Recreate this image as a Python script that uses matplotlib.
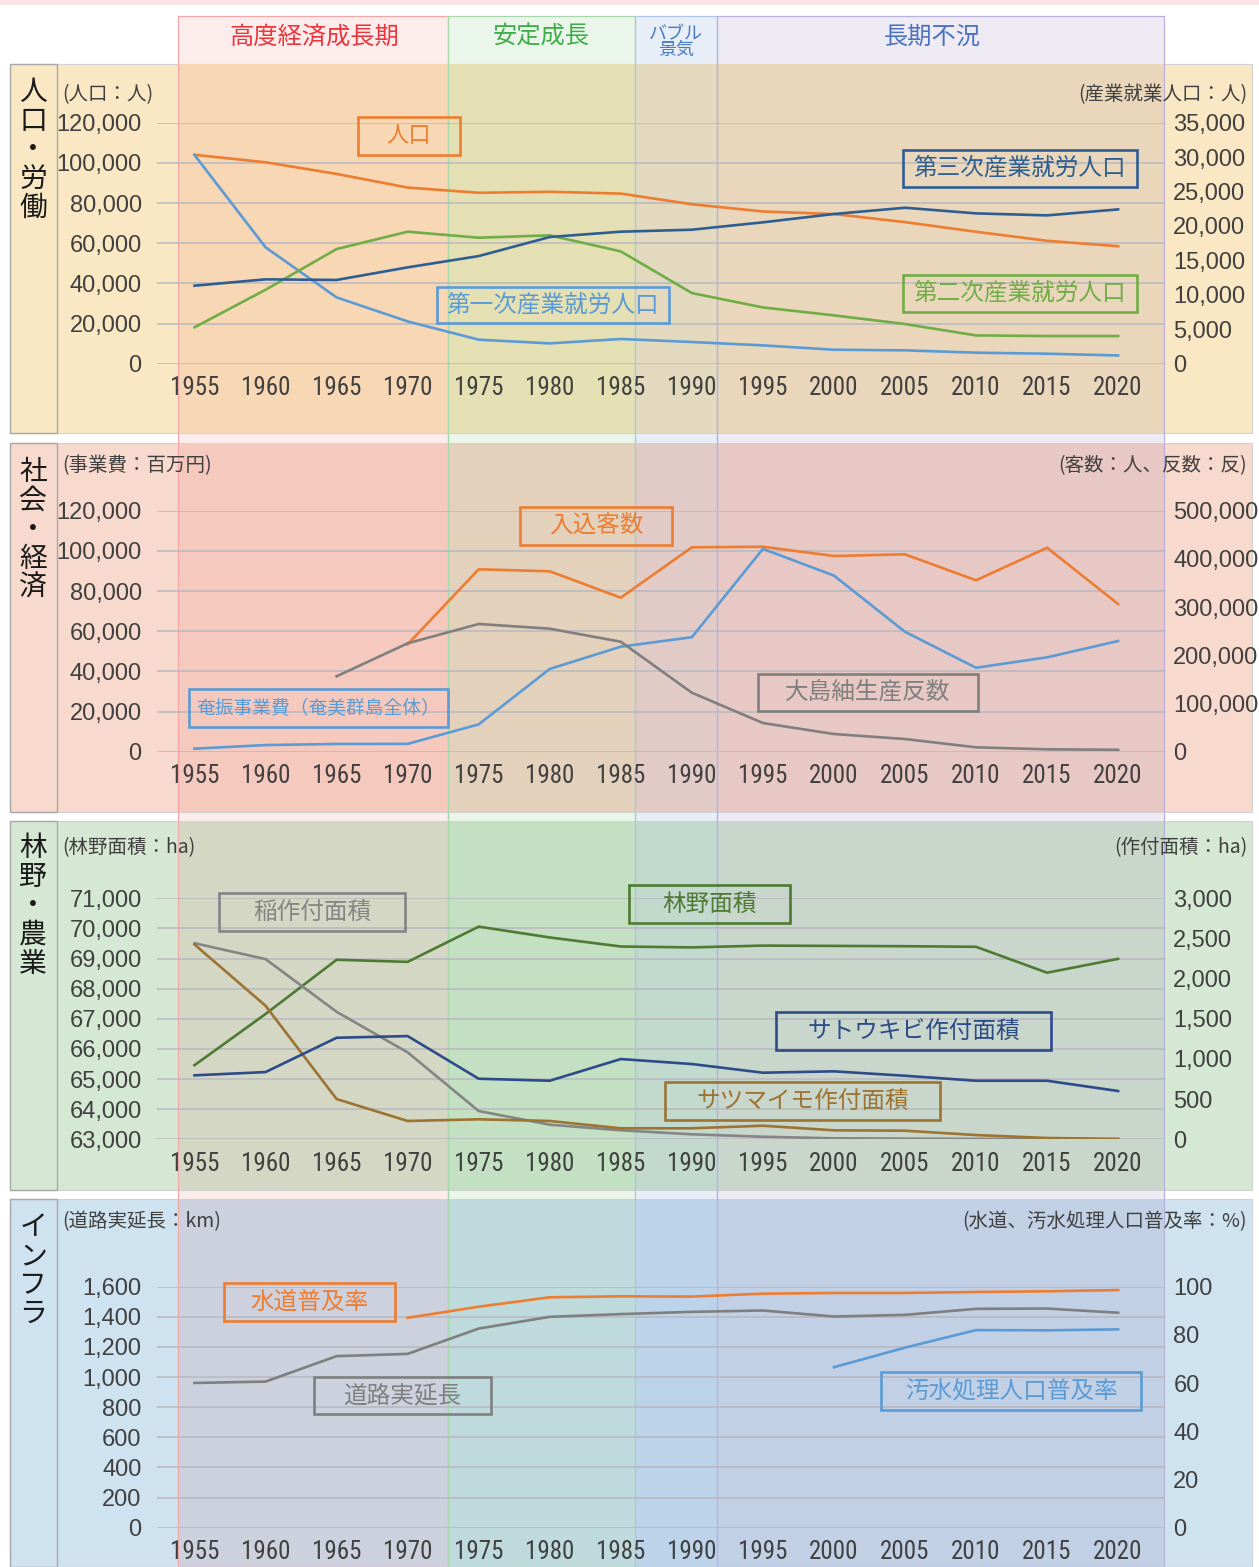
import numpy as np
import matplotlib
matplotlib.use("Agg")
import matplotlib.pyplot as plt
import matplotlib.transforms as mtransforms
from matplotlib import font_manager as fm
from matplotlib.colors import to_rgb
from matplotlib.patches import Rectangle
from matplotlib.ticker import FuncFormatter, MultipleLocator

nan = np.nan

# -----------------------------
# Data
# -----------------------------
years = [1955, 1960, 1965, 1970, 1975, 1980, 1985, 1990, 1995, 2000, 2005, 2010, 2015, 2020]

# 人口・労働
population = [104000, 100300, 94500, 87700, 85100, 85600, 84700, 79400, 75800, 74500, 70500, 65700, 61200, 58500]
primary = [30310, 16900, 9630, 6140, 3490, 2950, 3590, 3150, 2660, 2030, 1940, 1600, 1450, 1200]
secondary = [5280, 10740, 16650, 19170, 18300, 18640, 16310, 10260, 8170, 7020, 5760, 4110, 4020, 4020]
tertiary = [11330, 12250, 12160, 13990, 15630, 18400, 19170, 19460, 20530, 21740, 22650, 21830, 21540, 22410]

# 社会・経済
amashin = [1500, 3300, 3850, 3900, 13600, 41200, 52300, 57000, 101000, 87700, 59700, 41800, 47000, 55100]
visitors = [nan, nan, nan, 222800, 378400, 374300, 319500, 424000, 425300, 406000, 409500, 355600, 423200, 306400]
tsumugi = [nan, nan, 156400, 224900, 265000, 255200, 228200, 122400, 59500, 36700, 26300, 9100, 4900, 4000]

# 林野・農業
forest = [65460, 67160, 68960, 68890, 70060, 69700, 69400, 69370, 69430, 69420, 69410, 69390, 68530, 68990]
rice = [2441, 2243, 1587, 1082, 352, 182, 112, 62, 32, 12, 8, 5, 3, 2]
sweetpotato = [2425, 1662, 501, 228, 249, 228, 137, 137, 169, 112, 107, 53, 16, 5]
sugarcane = [796, 837, 1264, 1285, 754, 729, 999, 937, 829, 846, 791, 729, 729, 601]

# インフラ
road = [961, 970, 1139, 1154, 1322, 1400, 1418, 1433, 1442, 1402, 1413, 1453, 1455, 1427]
water = [nan, nan, nan, 87.1, 91.7, 95.6, 96.0, 95.9, 97.1, 97.4, 97.4, 97.8, 98.1, 98.6]
sewage = [nan, nan, nan, nan, nan, nan, nan, nan, nan, 66.6, 74.7, 82.0, 81.9, 82.3]

era_names = ["高度経済成長期", "安定成長", "バブル\n景気", "長期不況"]
era_edges = [1953.85, 1972.85, 1986.0, 1991.8, 2023.2]
era_text_x = [1963.4, 1979.4, 1988.9, 2006.9]
era_text_colors = ["#E8383D", "#3FAE49", "#4A7CC0", "#4A72BE"]
era_tints = ["#FDECEC", "#EAF6EA", "#E8EEF8", "#EFEBF4"]
era_edge_colors = ["#F2A8A8", "#A8D8AC", "#AFC6E8", "#B8B2DA"]

# -----------------------------
# Fonts
# -----------------------------
names = {f.name for f in fm.fontManager.ttflist}
X_FONT = next((n for n in ["Liberation Sans Narrow", "Roboto Condensed", "Liberation Sans"] if n in names), "DejaVu Sans")
Y_FONT = "Liberation Sans" if "Liberation Sans" in names else "DejaVu Sans"
plt.rcParams["font.family"] = ["Noto Sans CJK JP", "DejaVu Sans"]

W, H = 1259, 1567
fig = plt.figure(figsize=(W / 100, H / 100), dpi=100)
fig.patch.set_facecolor("white")


def fx(x):
    return x / W


def fy(y):
    return 1 - y / H


def mul(c1, c2):
    return tuple(a * b for a, b in zip(to_rgb(c1), to_rgb(c2)))


TICK = "#404040"
comma = FuncFormatter(lambda v, p: f"{v:,.0f}")

panel_tops = [64, 443, 821, 1199]
panel_bottoms = [433, 812, 1190, 1567]
axis_tops = [122.7, 510.7, 898.3, 1286.7]
AX_H = 241.0
panel_bg = ["#F9E8C3", "#F8D9CD", "#D5E8D4", "#CFE2F0"]

left_lims = [(0, 120000, 20000), (0, 120000, 20000), (63000, 71000, 1000), (0, 1600, 200)]
right_lims = [(0, 35000, 5000), (0, 500000, 100000), (0, 3000, 500), (0, 100, 20)]

axes = []
twins = []
for i in range(4):
    ax = fig.add_axes([fx(157), fy(axis_tops[i] + AX_H), 1008 / W, AX_H / H])
    ax2 = ax.twinx()
    for a in (ax, ax2):
        a.patch.set_visible(False)
        for s in a.spines.values():
            s.set_visible(False)
    ax.set_xlim(1952.36, 2023.3)
    lo, hi, st = left_lims[i]
    ax.set_ylim(lo, hi)
    ax.yaxis.set_major_locator(MultipleLocator(st))
    ax.yaxis.set_major_formatter(comma)
    lo, hi, st = right_lims[i]
    ax2.set_ylim(lo, hi)
    ax2.yaxis.set_major_locator(MultipleLocator(st))
    ax2.yaxis.set_major_formatter(comma)
    ax.set_xticks(years)
    ax.set_xticklabels([str(y) for y in years])
    ax.grid(axis="y", color="#B8B8C0", lw=1.1)
    ax.set_axisbelow(True)
    ax.tick_params(axis="x", length=0, pad=9, labelsize=18, labelcolor=TICK)
    ax.tick_params(axis="y", length=0, pad=11, labelsize=17, labelcolor=TICK)
    ax2.tick_params(axis="y", length=0, pad=6, labelsize=17, labelcolor=TICK)
    for lab in ax.get_xticklabels():
        lab.set_fontfamily(X_FONT)
    for lab in ax.get_yticklabels() + ax2.get_yticklabels():
        lab.set_fontfamily(Y_FONT)
    axes.append(ax)
    twins.append(ax2)

LW = 1.9
ORANGE = "#ED7D31"
LBLUE = "#5B9BD5"
GREEN = "#70AD47"
DBLUE = "#2E5E91"
GRAY = "#7F7F7F"
FGREEN = "#4E7A33"
NAVY = "#2D4B88"
BROWN = "#9C7331"

axes[0].plot(years, population, color=ORANGE, lw=LW)
twins[0].plot(years, primary, color=LBLUE, lw=LW)
twins[0].plot(years, secondary, color=GREEN, lw=LW)
twins[0].plot(years, tertiary, color=DBLUE, lw=LW)

axes[1].plot(years, amashin, color=LBLUE, lw=LW)
twins[1].plot(years, visitors, color=ORANGE, lw=LW)
twins[1].plot(years, tsumugi, color=GRAY, lw=LW)

axes[2].plot(years, forest, color=FGREEN, lw=LW)
twins[2].plot(years, rice, color="#858585", lw=LW)
twins[2].plot(years, sweetpotato, color=BROWN, lw=LW)
twins[2].plot(years, sugarcane, color=NAVY, lw=LW)

axes[3].plot(years, road, color=GRAY, lw=LW)
twins[3].plot(years, water, color=ORANGE, lw=LW)
twins[3].plot(years, sewage, color=LBLUE, lw=LW)

# -----------------------------
# Backgrounds, era bands
# -----------------------------
tr = mtransforms.blended_transform_factory(axes[0].transData, fig.transFigure)

fig.patches.append(Rectangle((0, fy(5)), 1, 5 / H, transform=fig.transFigure,
                             facecolor="#FCE4E8", edgecolor="none", zorder=-30))

for k in range(4):
    x0, x1 = era_edges[k], era_edges[k + 1]
    fig.patches.append(Rectangle((x0, 0), x1 - x0, fy(16), transform=tr,
                                 facecolor=era_tints[k], edgecolor="none", zorder=-25))

for i in range(4):
    y0, y1 = panel_tops[i], panel_bottoms[i]
    fig.patches.append(Rectangle((fx(10), fy(y1)), fx(1252) - fx(10), (y1 - y0) / H,
                                 transform=fig.transFigure, facecolor=panel_bg[i],
                                 edgecolor="#D2D2D2", lw=0.8, zorder=-20))
    for k in range(4):
        x0, x1 = era_edges[k], era_edges[k + 1]
        fig.patches.append(Rectangle((x0, fy(y1)), x1 - x0, (y1 - y0) / H, transform=tr,
                                     facecolor=mul(panel_bg[i], era_tints[k]),
                                     edgecolor="none", zorder=-19))
    fig.patches.append(Rectangle((fx(10), fy(y1)), fx(57) - fx(10), (y1 - y0) / H,
                                 transform=fig.transFigure, facecolor="none",
                                 edgecolor="#A8A8A8", lw=1.0, zorder=-17))

for k in range(4):
    x0, x1 = era_edges[k], era_edges[k + 1]
    fig.patches.append(Rectangle((x0, 0), x1 - x0, fy(16), transform=tr,
                                 facecolor="none", edgecolor=era_edge_colors[k],
                                 lw=0.9, zorder=-16))

for k in range(4):
    if "\n" in era_names[k]:
        fig.text(era_text_x[k], fy(42), era_names[k], transform=tr, ha="center", va="center",
                 fontsize=13, linespacing=0.85, color=era_text_colors[k])
    else:
        fig.text(era_text_x[k], fy(37), era_names[k], transform=tr, ha="center", va="center",
                 fontsize=17.5, color=era_text_colors[k])

# -----------------------------
# Panel titles and units
# -----------------------------
panel_titles = ["人口・労働", "社会・経済", "林野・農業", "インフラ"]
title_first = [92, 472, 848, 1227]
for i, t in enumerate(panel_titles):
    for j, ch in enumerate(t):
        fig.text(fx(33), fy(title_first[i] + 29 * j), ch, ha="center", va="center",
                 fontsize=20, color="#1A1A1A")

left_units = ["(人口：人)", "(事業費：百万円)", "(林野面積：ha)", "(道路実延長：km)"]
right_units = ["(産業就業人口：人)", "(客数：人、反数：反)", "(作付面積：ha)", "(水道、汚水処理人口普及率：%)"]
unit_y = [95, 466, 848, 1222]
for i in range(4):
    fig.text(fx(62), fy(unit_y[i]), left_units[i], ha="left", va="center",
             fontsize=14, color=TICK)
    fig.text(fx(1247), fy(unit_y[i]), right_units[i], ha="right", va="center",
             fontsize=14, color=TICK)


# -----------------------------
# Series label boxes
# -----------------------------
def label_box(x0, y0, x1, y1, text, color, size=17):
    fig.patches.append(Rectangle((fx(x0), fy(y1)), fx(x1) - fx(x0), (y1 - y0) / H,
                                 transform=fig.transFigure, fill=False,
                                 edgecolor=color, lw=1.9, zorder=6))
    fig.text(fx((x0 + x1) / 2), fy((y0 + y1) / 2), text, ha="center", va="center",
             color=color, fontsize=size, zorder=7)


label_box(358, 117, 460, 155, "人口", ORANGE, 16)
label_box(903, 150, 1137, 187, "第三次産業就労人口", DBLUE)
label_box(903, 275, 1137, 312, "第二次産業就労人口", GREEN)
label_box(437, 287, 669, 323, "第一次産業就労人口", LBLUE)

label_box(520, 507, 672, 545, "入込客数", ORANGE)
label_box(758, 674, 978, 711, "大島紬生産反数", GRAY)
label_box(189, 689, 448, 727, "奄振事業費（奄美群島全体）", LBLUE, 13.5)

label_box(219, 893, 405, 931, "稲作付面積", "#858585")
label_box(629, 885, 790, 923, "林野面積", FGREEN)
label_box(776, 1012, 1051, 1050, "サトウキビ作付面積", NAVY)
label_box(665, 1082, 940, 1120, "サツマイモ作付面積", BROWN)

label_box(224, 1283, 395, 1321, "水道普及率", ORANGE)
label_box(314, 1377, 491, 1414, "道路実延長", GRAY)
label_box(881, 1372, 1141, 1410, "汚水処理人口普及率", LBLUE)

fig.savefig("out.png", dpi=100)
